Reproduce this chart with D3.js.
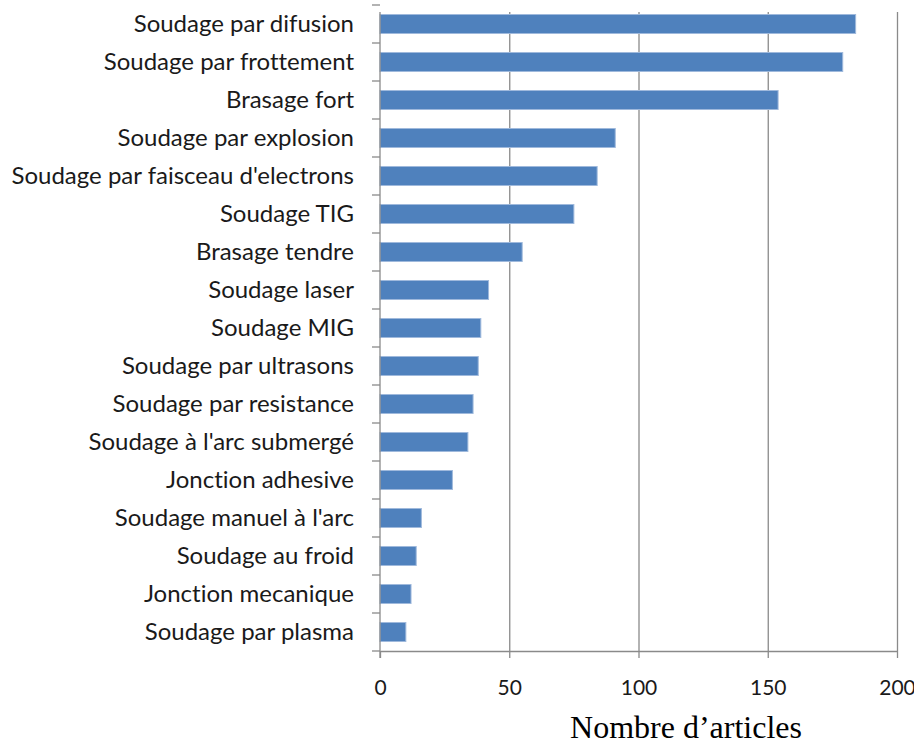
<!DOCTYPE html>
<html>
<head>
<meta charset="utf-8">
<script src="https://cdn.jsdelivr.net/npm/d3@7"></script>
<style>
  body { margin: 0; background: #fff; }
  text { font-variant-ligatures: none; }
</style>
</head>
<body>
<div id="chart"></div>
<script>
// categories, top to bottom
var categories = [
  'Soudage par difusion',
  'Soudage par frottement',
  'Brasage fort',
  'Soudage par explosion',
  "Soudage par faisceau d'electrons",
  'Soudage TIG',
  'Brasage tendre',
  'Soudage laser',
  'Soudage MIG',
  'Soudage par ultrasons',
  'Soudage par resistance',
  "Soudage à l'arc submergé",
  'Jonction adhesive',
  "Soudage manuel à l'arc",
  'Soudage au froid',
  'Jonction mecanique',
  'Soudage par plasma'
]

var articles = [184, 179, 154, 91, 84, 75, 55, 42, 39, 38, 36, 34, 28, 16, 14, 12, 10]

var xTicks = [0, 50, 100, 150, 200]
var xTitle = 'Nombre d\u2019articles'

var W = 914, H = 744
var plot = { left: 380, right: 897, top: 5, bottom: 651 }

var svg = d3.select('#chart')
            .append('svg')
            .attr('width', W)
            .attr('height', H)

var x = d3.scaleLinear()
            .domain([0, 200])
            .range([plot.left, plot.right])

var y = d3.scaleBand()
            .domain(categories)
            .range([plot.top, plot.bottom])
            .paddingInner(0.5)
            .paddingOuter(0.25)

var data = categories.map(function(c, i){ return {'name': c, 'value': articles[i]} })

// vertical gridlines
svg.append('g')
    .selectAll('line')
    .data(xTicks.slice(1))
    .enter()
    .append('line')
    .attr('x1', d => x(d) + 0.5)
    .attr('x2', d => x(d) + 0.5)
    .attr('y1', 12)
    .attr('y2', plot.bottom)
    .attr('stroke', '#8a8a8a')
    .attr('stroke-width', 1.3)

// bars
svg.append('g')
    .selectAll('rect')
    .data(data)
    .enter()
    .append('rect')
    .attr('x', x(0))
    .attr('y', d => y(d.name))
    .attr('width', d => x(d.value) - x(0))
    .attr('height', y.bandwidth())
    .attr('fill', '#4f81bd')
    .attr('stroke', '#9fb9dc')
    .attr('stroke-width', 1)

// bottom axis
var xAxis = svg.append('g')
    .attr('transform', 'translate(0,' + plot.bottom + ')')
    .call(d3.axisBottom(x).tickValues(xTicks).tickSize(7).tickPadding(22).tickSizeOuter(0))

xAxis.select('.domain').attr('stroke', '#8a8a8a').attr('stroke-width', 1.3)
xAxis.selectAll('.tick line').attr('stroke', '#8a8a8a').attr('stroke-width', 1.3)
xAxis.selectAll('text')
    .attr('fill', '#1a1a1a')
    .style('font-family', 'Lato, sans-serif')
    .style('font-size', '21px')

// left axis, ticks between categories
var yAxis = svg.append('g')
    .attr('transform', 'translate(' + x(0) + ',0)')

yAxis.append('line')
    .attr('x1', 0).attr('x2', 0)
    .attr('y1', 12).attr('y2', plot.bottom + 7)
    .attr('stroke', '#8a8a8a')
    .attr('stroke-width', 1.3)

yAxis.selectAll('.sep')
    .data(categories)
    .enter()
    .append('line')
    .attr('class', 'sep')
    .attr('x1', -8).attr('x2', 0)
    .attr('y1', d => y(d) - y.step() * 0.25)
    .attr('y2', d => y(d) - y.step() * 0.25)
    .attr('stroke', '#8a8a8a')
    .attr('stroke-width', 1.3)

yAxis.append('line')
    .attr('x1', -8).attr('x2', 0)
    .attr('y1', plot.bottom).attr('y2', plot.bottom)
    .attr('stroke', '#8a8a8a')
    .attr('stroke-width', 1.3)

yAxis.selectAll('.lbl')
    .data(categories)
    .enter()
    .append('text')
    .attr('class', 'lbl')
    .attr('x', -26)
    .attr('y', d => y(d) + y.bandwidth() / 2)
    .attr('dy', '0.35em')
    .attr('text-anchor', 'end')
    .attr('fill', '#1a1a1a')
    .style('font-family', 'Lato, sans-serif')
    .style('font-size', '24px')
    .text(d => d)

// axis title
svg.append('text')
    .attr('x', 686)
    .attr('y', 738)
    .attr('text-anchor', 'middle')
    .attr('fill', '#000')
    .style('font-family', '"Liberation Serif", "Times New Roman", serif')
    .style('font-size', '32px')
    .text(xTitle)
</script>
</body>
</html>
